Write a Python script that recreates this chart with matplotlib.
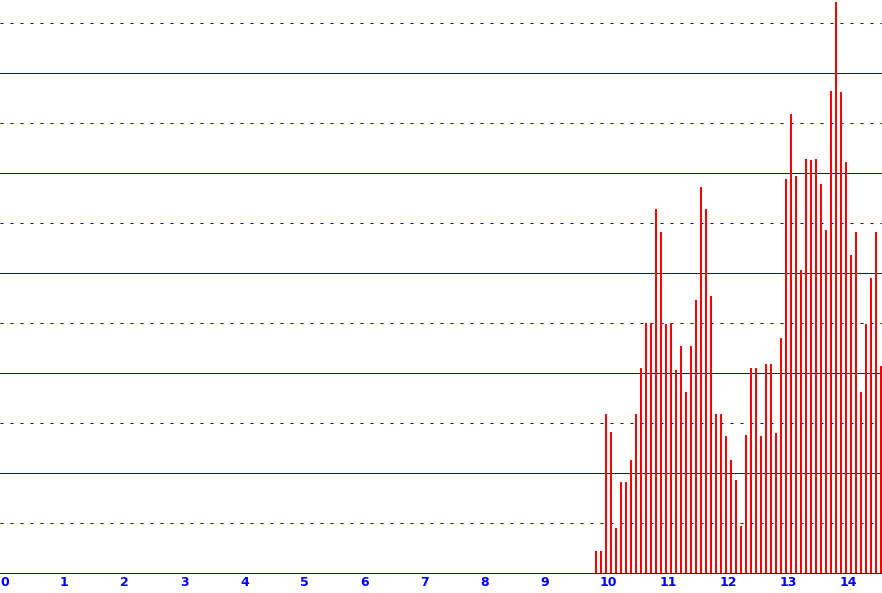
#importing external libraries
import numpy as np
import matplotlib.pyplot as plt

# monthly bins (month index, 12 per unit on the x axis)
months = list(range(119, 177))
values = [0.44, 0.44, 3.19, 2.82, 0.91, 1.83, 1.83, 2.26, 3.19, 4.10,
          5.00, 5.00, 7.28, 6.82, 4.98, 5.00, 4.06, 4.54, 3.62, 4.54,
          5.46, 7.72, 7.28, 5.54, 3.19, 3.19, 2.74, 2.26, 1.87, 0.95,
          2.77, 4.11, 4.11, 2.75, 4.19, 4.19, 2.81, 4.71, 7.88, 9.18,
          7.94, 6.06, 8.28, 8.26, 8.28, 7.78, 6.86, 9.64, 11.42, 9.62,
          8.22, 6.36, 6.82, 3.62, 4.98, 5.90, 6.82, 4.14]
tick_labels = [str(i) for i in range(15)]

blue = '#0000ff'

fig = plt.figure(figsize=(8.82, 5.93), dpi=100)
ax = fig.add_axes([0, 20 / 593, 1, 573 / 593])

x = np.array(months) / 12.0
ax.bar(x, values, width=2 / 60, align='edge', color='#ff0000',
       linewidth=0, antialiased=False, zorder=3)

ax.set_xlim(0, 882 / 60)
ax.set_ylim(0, 573 / 50)

# gridlines: solid on even values, dashed on odd ones
ax.set_yticks(np.arange(2, 12, 2))
ax.set_yticks(np.arange(1, 12, 2), minor=True)
ax.yaxis.grid(True, which='major', color=blue, linewidth=0.72, linestyle='-')
ax.yaxis.grid(True, which='minor', color=blue, linewidth=0.72, linestyle=(0, (3, 7)))
ax.set_axisbelow(True)
ax.tick_params(axis='y', which='both', left=False, labelleft=False)

ax.set_xticks(range(len(tick_labels)))
ax.set_xticklabels(tick_labels, ha='left', color=blue, fontsize=9, fontweight='bold')
ax.tick_params(axis='x', length=0, pad=2)

for s in ['top', 'left', 'right']:
    ax.spines[s].set_visible(False)
ax.spines['bottom'].set_color(blue)
ax.spines['bottom'].set_linewidth(0.72)

fig.savefig('out.png', dpi=100)
